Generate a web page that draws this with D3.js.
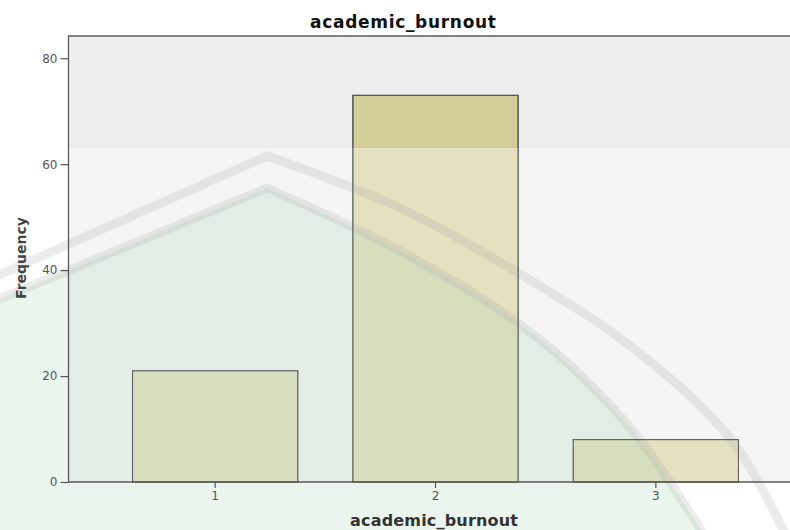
<!DOCTYPE html>
<html>
<head>
<meta charset="utf-8">
<script src="https://cdn.jsdelivr.net/npm/d3@7"></script>
<style>
  html, body { margin: 0; padding: 0; background: #fff; }
  svg { display: block; font-family: "DejaVu Sans", Verdana, sans-serif; }
</style>
</head>
<body>
<svg id="chart"></svg>
<script>
// ── data ──
const categories = ['1', '2', '3'];
const frequencies = [21, 73, 8];
const yTicks = [0, 20, 40, 60, 80];
const chartTitle = 'academic_burnout';
const xTitle = 'academic_burnout';
const yTitle = 'Frequency';

const W = 790, H = 530;
const plot = { left: 68.5, top: 36, right: 790, bottom: 482 };

const svg = d3.select('#chart').attr('width', W).attr('height', H);

const x = d3.scaleBand()
  .domain(categories)
  .range([105, 766])
  .paddingInner(0.25)
  .paddingOuter(0.125);

const y = d3.scaleLinear()
  .domain([0, 84.2])
  .range([plot.bottom, plot.top]);

const barData = categories.map((c, i) => ({ cat: c, value: frequencies[i] }));

// Plot background
svg.append('rect')
  .attr('x', plot.left).attr('y', plot.top)
  .attr('width', plot.right - plot.left).attr('height', plot.bottom - plot.top)
  .attr('fill', '#eeeeee');

// Bars
svg.selectAll('.bar')
  .data(barData)
  .join('rect').attr('class', 'bar')
  .attr('x', d => x(d.cat))
  .attr('y', d => y(d.value))
  .attr('width', x.bandwidth())
  .attr('height', d => y(0) - y(d.value))
  .attr('fill', '#d3ce97')
  .attr('stroke', '#3c3c3c').attr('stroke-width', 1);

// Watermark wash (scanned page overlay) — lower part of the picture
const wm = svg.append('g').attr('class', 'watermark');
wm.append('rect')
  .attr('x', 0).attr('y', 148).attr('width', W).attr('height', H - 148)
  .attr('fill', '#ffffff').attr('opacity', 0.4);

// pointed arch: straight left flank, curved right flank
function archPath(apex, leftEnd, rightPts) {
  const right = d3.line().curve(d3.curveCatmullRom)([apex, ...rightPts]);
  return `M${leftEnd[0]},${leftEnd[1]}L${apex[0]},${apex[1]}` + right.replace(/^M[^C]*/, '');
}
const outerD = archPath([267, 156], [-10, 279], [[400, 208], [520, 274], [633, 348], [733, 442], [800, 565]]);
const innerD = archPath([267, 188], [-10, 303], [[400, 251], [533, 334], [633, 431], [712, 548]]);

wm.append('path')
  .attr('d', innerD + 'L-10,545Z')
  .attr('fill', 'rgb(170,215,185)').attr('opacity', 0.24);
[outerD, innerD].forEach(d => {
  wm.append('path')
    .attr('d', d)
    .attr('fill', 'none')
    .attr('stroke', '#a8a8a8').attr('stroke-width', 9)
    .attr('stroke-linejoin', 'round')
    .attr('opacity', 0.22);
});

// Bar outlines stay dark through the wash
svg.selectAll('.bar-edge')
  .data(barData)
  .join('rect').attr('class', 'bar-edge')
  .attr('x', d => x(d.cat))
  .attr('y', d => y(d.value))
  .attr('width', x.bandwidth())
  .attr('height', d => y(0) - y(d.value))
  .attr('fill', 'none')
  .attr('stroke', '#5c5c5c').attr('stroke-width', 1);

// Axes
const yAxis = svg.append('g')
  .attr('transform', `translate(${plot.left},0)`)
  .call(d3.axisLeft(y).tickValues(yTicks).tickSize(8).tickSizeOuter(0).tickPadding(3));
const xAxis = svg.append('g')
  .attr('transform', `translate(0,${plot.bottom})`)
  .call(d3.axisBottom(x).tickSize(6).tickSizeOuter(0).tickPadding(3));

[yAxis, xAxis].forEach(g => {
  g.select('.domain').remove();
  g.selectAll('.tick line').attr('stroke', '#555').attr('stroke-width', 1.2);
  g.selectAll('.tick text')
    .attr('fill', '#555')
    .attr('font-family', '"DejaVu Sans", Verdana, sans-serif')
    .attr('font-size', 12);
});

// Frame lines: left, top and baseline
svg.append('path')
  .attr('d', `M${plot.right},${plot.top}H${plot.left}V${plot.bottom}H${plot.right}`)
  .attr('fill', 'none').attr('stroke', '#5a5a5a').attr('stroke-width', 1.3);

// Titles
svg.append('text')
  .attr('x', 403).attr('y', 28)
  .attr('text-anchor', 'middle')
  .attr('font-size', 17).attr('font-weight', 'bold')
  .attr('fill', '#111')
  .attr('textLength', 186).attr('lengthAdjust', 'spacing')
  .text(chartTitle);

svg.append('text')
  .attr('x', 434).attr('y', 526)
  .attr('text-anchor', 'middle')
  .attr('font-size', 16).attr('font-weight', 'bold')
  .attr('fill', '#333')
  .attr('textLength', 168).attr('lengthAdjust', 'spacing')
  .text(xTitle);

svg.append('text')
  .attr('transform', 'translate(26,258) rotate(-90)')
  .attr('text-anchor', 'middle')
  .attr('font-size', 14).attr('font-weight', 'bold')
  .attr('fill', '#444')
  .attr('textLength', 82).attr('lengthAdjust', 'spacing')
  .text(yTitle);
</script>
</body>
</html>
